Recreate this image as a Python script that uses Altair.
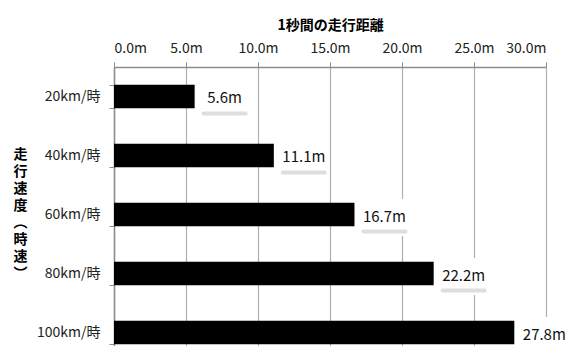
import altair as alt
import pandas as pd

speeds = ["20km/時", "40km/時", "60km/時", "80km/時", "100km/時"]
distances = [5.6, 11.1, 16.7, 22.2, 27.8]
labels = ["5.6m", "11.1m", "16.7m", "22.2m", "27.8m"]
x_ticks = [0, 5, 10, 15, 20, 25, 30]

df = pd.DataFrame({"speed": speeds, "dist": distances, "label": labels})

FONT = "Noto Sans CJK JP"

y_scale = alt.Scale(paddingInner=0.6, paddingOuter=0.198, align=0.757)

y_enc = alt.Y(
    "speed:N",
    sort=speeds,
    scale=y_scale,
    axis=alt.Axis(
        title=["走", "行", "速", "度", "︵", "時", "速", "︶"],
        titleAngle=0,
        titleFontWeight="bold",
        titleFontSize=14,
        titleLineHeight=17,
        titleAlign="center",
        titleBaseline="middle",
        titleX=-94,
        titleY=87,
        titleColor="#000000",
        titleFont=FONT,
        labelFont=FONT,
        labelFontSize=14,
        labelColor="#222222",
        labelPadding=9,
        tickBand="extent",
        tickSize=5,
        tickColor="#8c8c8c",
        domainColor="#8c8c8c",
        domainWidth=1.5,
        grid=False,
    ),
)

x_scale = alt.Scale(domain=[0, 30], nice=False)

bars = alt.Chart(df).mark_bar(color="#000000").encode(
    x=alt.X(
        "dist:Q",
        scale=x_scale,
        axis=alt.Axis(
            orient="top",
            title="1秒間の走行距離",
            titleFont=FONT,
            titleFontSize=14,
            titleFontWeight="bold",
            titleColor="#000000",
            titlePadding=9,
            values=x_ticks,
            labelExpr="format(datum.value, '.1f') + 'm'",
            labelFont=FONT,
            labelFontSize=14,
            labelColor="#222222",
            labelPadding=7,
            tickSize=5,
            tickColor="#8c8c8c",
            domainColor="#8c8c8c",
            domainWidth=1.5,
            grid=True,
            gridColor="#b0b0b0",
            gridWidth=1.2,
        ),
    ),
    y=y_enc,
)

box = alt.Chart(df).mark_rule(
    color="#ffffff", strokeWidth=37, strokeCap="butt", xOffset=5, x2Offset=55, yOffset=3
).encode(
    x=alt.X("dist:Q", scale=x_scale),
    x2="dist:Q",
    y=alt.Y("speed:N", sort=speeds),
)

shadow = alt.Chart(df).mark_rule(
    color="#dedede", strokeWidth=4, strokeCap="round", xOffset=9, x2Offset=51, yOffset=17
).encode(
    x=alt.X("dist:Q", scale=x_scale),
    x2="dist:Q",
    y=alt.Y("speed:N", sort=speeds),
)

text = alt.Chart(df).mark_text(
    font=FONT, fontSize=15, color="#111111", align="center", baseline="middle", xOffset=30, yOffset=2
).encode(
    x=alt.X("dist:Q", scale=x_scale),
    y=alt.Y("speed:N", sort=speeds),
    text="label:N",
)

chart = (
    alt.layer(bars, box, shadow, text)
    .properties(
        width=432,
        height=283,
        autosize=alt.AutoSizeParams(type="none"),
        padding={"left": 106, "top": 59, "right": 20, "bottom": -4},
    )
    .configure_view(stroke=None)
    .configure(background="#ffffff")
)

chart.save("out.html", embed_options={"renderer": "svg", "actions": False})
